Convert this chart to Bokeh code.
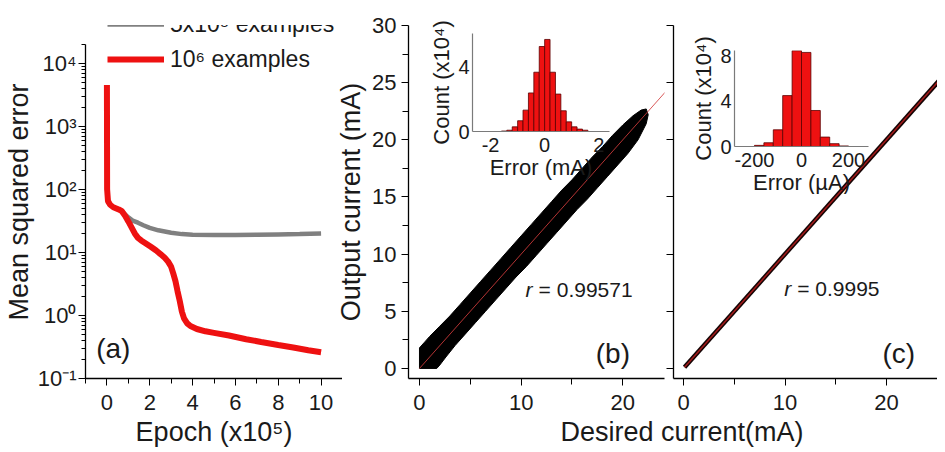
from bokeh.plotting import figure
from bokeh.models import Range1d, FixedTicker, Legend, LegendItem, Label, Title
from bokeh.layouts import row
from bokeh.embed import file_html
from bokeh.resources import INLINE

FONT = "Liberation Sans"
INK = "#1a1a1a"

# ---------------- data ----------------
# (a) training curves: epoch (x1e5) vs mean squared error
red_epoch = [0.0, 0.01, 0.05, 0.15, 0.3, 0.55, 0.7, 0.85, 1.0, 1.15, 1.3, 1.45, 1.6, 1.8,
             2.05, 2.3, 2.5, 2.7, 2.85, 3.0, 3.1, 3.2, 3.3, 3.4, 3.5, 3.6, 3.75, 3.9,
             4.2, 4.6, 5.0, 5.7, 6.5, 7.2, 8.0, 8.7, 9.4, 10.0]
red_mse = [4500, 100, 65, 57, 52, 48, 45, 38, 31, 25, 20, 17, 15.5, 14,
           12.3, 10.7, 9.4, 8.2, 7.2, 5.9, 4.6, 3.5, 2.4, 1.7, 1.15, 0.9, 0.75, 0.68,
           0.61, 0.56, 0.53, 0.48, 0.42, 0.38, 0.34, 0.31, 0.28, 0.26]
gray_epoch = [0.0, 0.01, 0.05, 0.15, 0.3, 0.55, 0.7, 0.85, 1.0, 1.2, 1.45, 1.7, 2.0,
              2.4, 3.0, 3.5, 4.0, 5.0, 6.0, 7.0, 8.0, 9.0, 10.0]
gray_mse = [4500, 100, 65, 57, 52, 48, 45, 40, 36, 32, 29.6, 27, 24.5,
            22.4, 20.5, 19.5, 19.0, 18.8, 18.8, 19.0, 19.3, 19.6, 20.0]
legend_labels = ["5x10\u2075 examples", "10\u2076 examples"]

# (b) envelope of the output-vs-desired point cloud (mA)
band_desired = [0.0, 0.0, 0.5, 1.0, 2.0, 3.0, 4.0, 5.0, 6.0, 7.0, 8.0, 9.0, 10.0, 11.0, 12.0,
                13.0, 14.0, 15.0, 16.0, 17.0, 18.0, 19.0, 20.0, 21.0, 21.8, 22.3,
                22.5, 22.3, 21.5, 20.5, 19.5, 18.5, 17.5, 16.5, 15.5, 14.5, 13.5, 12.5,
                11.5, 10.5, 9.5, 8.5, 7.5, 6.5, 5.5, 4.5, 3.5, 2.6, 2.0, 1.7]
band_output = [0.0, 1.8, 2.3, 2.8, 3.7, 4.6, 5.6, 6.6, 7.6, 8.6, 9.6, 10.6, 11.6, 12.6, 13.6,
               14.6, 15.6, 16.5, 17.5, 18.5, 19.4, 20.4, 21.3, 22.1, 22.6, 22.7,
               22.2, 21.4, 20.0, 18.8, 17.8, 16.8, 15.8, 14.8, 13.9, 12.9, 11.9, 10.9,
               9.9, 8.9, 8.0, 7.0, 6.0, 5.0, 4.0, 3.0, 2.0, 1.0, 0.3, 0.0]
fit_desired = [0.0, 25.0]
fit_output = [0.0, 25.0]
r_b = "0.99571"

# (c) output vs desired (mA)
c_desired = [0.1, 25.5]
c_output = [0.1, 25.5]
r_c = "0.9995"

# inset histograms (counts in units of 1e4)
hist_b_center = [-1.5, -1.3, -1.1, -0.9, -0.7, -0.5, -0.3, -0.1, 0.1, 0.3, 0.5, 0.7, 0.9, 1.1, 1.3, 1.5]
hist_b_count = [0.03, 0.08, 0.29, 0.67, 1.33, 2.40, 3.69, 5.29, 5.73, 3.69, 2.33, 1.29, 0.60, 0.29, 0.15, 0.08]
hist_c_center = [-180, -140, -100, -60, -20, 20, 60, 100, 140, 180]
hist_c_count = [0.10, 0.33, 1.47, 4.48, 8.43, 8.28, 3.17, 0.83, 0.25, 0.05]

# ---------------- helpers ----------------
def absolute(left, top):
    return {"position": "absolute", "left": f"{left}px", "top": f"{top}px"}


def base_fig(styles=None, transparent=True, **kw):
    extra = {}
    if styles is not None:
        extra["styles"] = styles
    fill = None if transparent else "white"
    p = figure(output_backend="svg", toolbar_location=None, outline_line_color=None,
               background_fill_color=fill, border_fill_color=fill, **extra, **kw)
    p.xgrid.visible = False
    p.ygrid.visible = False
    return p


def style_axis(ax, tick_size="22px", label_size="27px", color="black",
               tick_out=7, minor_out=5, lw=1.3):
    ax.axis_line_color = color
    ax.axis_line_width = lw
    ax.major_tick_line_color = color
    ax.minor_tick_line_color = color
    ax.major_tick_in = 0
    ax.major_tick_out = tick_out
    ax.minor_tick_in = 0
    ax.minor_tick_out = minor_out
    ax.major_label_text_font = FONT
    ax.major_label_text_font_size = tick_size
    ax.major_label_text_color = INK
    ax.major_label_text_line_height = 1.0
    ax.axis_label_text_font = FONT
    ax.axis_label_text_font_size = label_size
    ax.axis_label_text_font_style = "normal"
    ax.axis_label_text_color = INK
    ax.axis_label_text_line_height = 1.0


def add_text(p, x, y, text, size="21px", style="normal", x_offset=0):
    p.add_layout(Label(x=x, y=y, text=text, x_offset=x_offset, text_font=FONT,
                       text_font_size=size, text_font_style=style, text_color=INK,
                       text_baseline="middle", text_align="left"))

# ---------------- panel (b): in normal flow, canvas spans the full width ----------------
pb = base_fig(transparent=False, width=937, height=452,
              x_range=Range1d(-1.08, 24.1), y_range=Range1d(-0.88, 30),
              min_border_left=408, min_border_right=273, min_border_top=25, min_border_bottom=74)
pb.patch(band_desired, band_output, fill_color="black", line_color="black", line_width=1)
pb.line(fit_desired, fit_output, line_color="#d23c3c", line_width=1, line_alpha=0.85)
pb.xaxis.ticker = FixedTicker(ticks=[0, 10, 20], minor_ticks=[5, 15])
pb.yaxis.ticker = FixedTicker(ticks=[0, 5, 10, 15, 20, 25, 30],
                              minor_ticks=[2.5, 7.5, 12.5, 17.5, 22.5, 27.5])
for ax in pb.xaxis + pb.yaxis:
    style_axis(ax, minor_out=6)
pb.xaxis.major_label_standoff = 9
pb.yaxis.axis_label = "Output current (mA)"
pb.yaxis.axis_label_standoff = 3
# x title shared by panels (b) and (c)
pb.add_layout(Title(text="Desired current(mA)", align="left", offset=152,
                    vertical_align="bottom", text_line_height=0.8,
                    text_font=FONT, text_font_size="27px", text_font_style="normal",
                    text_color=INK, standoff=5), "below")
add_text(pb, 10.44, 6.93, "r", style="italic")
add_text(pb, 10.44, 6.93, "= " + r_b, x_offset=13)
add_text(pb, 17.34, 1.3, "(b)", size="28px")

# ---------------- panel (a) ----------------
# no title panel, and the frame reaches above the axis top so that the legend is not clipped;
# the visible axis is bounded to 0.1 .. 2x10^4
pa = base_fig(styles=absolute(0, 0), title=None, width=342, height=452, y_axis_type="log",
              x_range=Range1d(-1, 11), y_range=Range1d(0.1, 39700),
              min_border_left=78, min_border_right=0, min_border_top=5, min_border_bottom=73)
g_line = pa.line(gray_epoch, gray_mse, line_color="#808080", line_width=4.5)
r_line = pa.line(red_epoch, red_mse, line_color="#ee1111", line_width=6)
pa.xaxis.ticker = FixedTicker(ticks=[0, 2, 4, 6, 8, 10], minor_ticks=[-1, 1, 3, 5, 7, 9, 11])
for ax in pa.xaxis + pa.yaxis:
    style_axis(ax, minor_out=5)
pa.yaxis.bounds = (0.1, 2e4)
pa.yaxis.minor_tick_out = 4
pa.yaxis.major_label_standoff = 2
pa.yaxis.major_label_overrides = {0.1: "10\u207b\u00b9", 1: "10\u2070", 10: "10\u00b9",
                                  100: "10\u00b2", 1000: "10\u00b3", 10000: "10\u2074"}
pa.yaxis.axis_label = "Mean squared error"
pa.yaxis.axis_label_standoff = 1
pa.xaxis.major_label_standoff = 9
pa.xaxis.axis_label = "Epoch (x10\u2075)"
pa.xaxis.axis_label_standoff = 4
pa.xaxis.axis_label_text_line_height = 0.75
pa.add_layout(Legend(items=[LegendItem(label=legend_labels[0], renderers=[g_line]),
                            LegendItem(label=legend_labels[1], renderers=[r_line])],
                     location=(22, 305), padding=0, margin=0, spacing=7,
                     glyph_width=57, glyph_height=28, label_height=28, label_standoff=6,
                     label_text_font=FONT, label_text_font_size="23px", label_text_color=INK,
                     border_line_color=None, background_fill_alpha=0))
add_text(pa, -0.5, 0.3, "(a)", size="28px")

# ---------------- panel (c) ----------------
pc = base_fig(styles=absolute(664, 0), width=273, height=452,
              x_range=Range1d(-0.985, 25.02), y_range=Range1d(-0.88, 30),
              min_border_left=9, min_border_right=0, min_border_top=25, min_border_bottom=74)
pc.line(c_desired, c_output, line_color="#140404", line_width=4.5)
pc.line(c_desired, c_output, line_color="#c82020", line_width=1.5, line_alpha=0.8)
pc.xaxis.ticker = FixedTicker(ticks=[0, 10, 20], minor_ticks=[5, 15])
pc.yaxis.ticker = FixedTicker(ticks=[0, 5, 10, 15, 20, 25, 30])
for ax in pc.xaxis + pc.yaxis:
    style_axis(ax, minor_out=6)
pc.xaxis.major_label_standoff = 9
pc.yaxis.major_label_overrides = {t: "" for t in [0, 5, 10, 15, 20, 25, 30]}
pc.yaxis.major_label_standoff = 0
add_text(pc, 9.92, 7.0, "r", style="italic")
add_text(pc, 9.92, 7.0, "= " + r_c, x_offset=13)
add_text(pc, 19.6, 1.3, "(c)", size="28px")

# ---------------- insets ----------------
def inset(left, top, fw, fh, xr, yr, bl, br, bt, xt, yt, xlabel):
    p = base_fig(styles=absolute(left, top), frame_width=fw, frame_height=fh,
                 x_range=Range1d(*xr), y_range=Range1d(*yr),
                 min_border_left=bl, min_border_right=br, min_border_top=bt, min_border_bottom=20)
    p.xaxis.ticker = FixedTicker(ticks=xt)
    p.yaxis.ticker = FixedTicker(ticks=yt)
    for ax in p.xaxis + p.yaxis:
        style_axis(ax, tick_size="20px", label_size="22px", color="#7a7a7a",
                   tick_out=0, minor_out=0, lw=1.2)
    p.xaxis.major_label_standoff = 6
    p.xaxis.axis_label_standoff = 0
    p.yaxis.major_label_standoff = 3
    p.yaxis.axis_label_standoff = 1
    p.xaxis.major_label_overrides = {t: str(t) for t in xt}
    p.yaxis.axis_label = "Count (x10\u2074)"
    p.xaxis.axis_label = xlabel
    return p

ib = inset(426, 8, 137, 98, (-2.67, 2.4), (0, 6.1), 39, 5, 23,
           [-2, 0, 2], [0, 4], "Error (mA)")
ib.vbar(x=hist_b_center, top=hist_b_count, width=0.2, fill_color="#ee1111",
        line_color="#5a0000", line_width=0.8)

ic = inset(688, 25, 134, 96, (-285, 285), (0, 8.45), 41, 12, 22,
           [-200, 0, 200], [0, 4, 8], "Error (\u00b5A)")
ic.vbar(x=hist_c_center, top=hist_c_count, width=40, fill_color="#ee1111",
        line_color="#5a0000", line_width=0.8)

root = row(pb, pa, pc, ib, ic, styles={"position": "relative"})
open("out.html", "w").write(file_html(root, INLINE))
